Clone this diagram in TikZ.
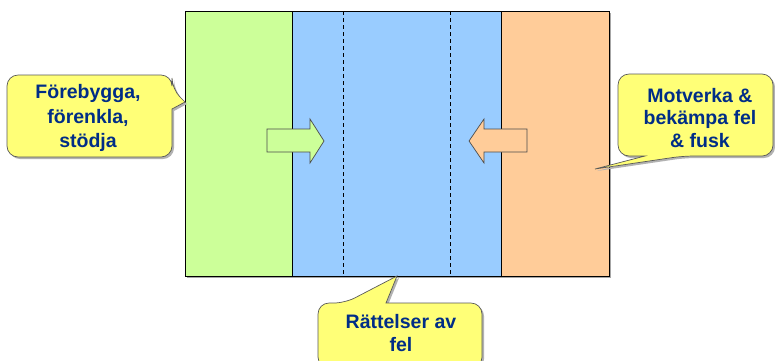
\documentclass[tikz,border=0pt]{standalone}
\usepackage{fontspec}
\setmainfont{Liberation Sans}
\definecolor{grn}{RGB}{204,255,153}
\definecolor{blu}{RGB}{153,204,255}
\definecolor{org}{RGB}{255,204,153}
\definecolor{yel}{RGB}{255,255,119}
\definecolor{navy}{RGB}{0,45,135}
\begin{document}
\begin{tikzpicture}[x=1pt,y=-1pt,
  callout/.style={draw=black!65, fill=yel, line width=0.7pt},
  cshadow/.style={fill=black!30, draw=none},
  ctext/.style={text=navy, align=center, inner sep=0pt},
  panel/.style={draw=black, line width=0.8pt},
  bigarrow/.style={draw=black!70, line width=0.7pt, line join=miter}]
\useasboundingbox (0,0) rectangle (775,360);

% panels
\fill[black!35] (187,13) rectangle (611,278);
\fill[grn] (185,11) rectangle (292,276);
\fill[blu] (292,11) rectangle (501,276);
\fill[org] (501,11) rectangle (609,276);
\draw[panel] (185,11) rectangle (609,276);
\draw[panel] (292,11) -- (292,276);
\draw[panel] (501,11) -- (501,276);
\draw[black, line width=0.7pt, dash pattern=on 4pt off 3pt] (343,11) -- (343,276);
\draw[black, line width=0.7pt, dash pattern=on 4pt off 3pt] (450,11) -- (450,276);

% block arrows
\draw[bigarrow, fill=grn] (267,129) -- (310,129) -- (310,119) -- (324,141) -- (310,163) -- (310,152) -- (267,152) -- cycle;
\draw[bigarrow, fill=org] (527,129) -- (484,129) -- (484,119) -- (469,141) -- (484,163) -- (484,152) -- (527,152) -- cycle;

% callout shadows
\begin{scope}[shift={(2,2)}]
\path[cshadow] (90,75) [rounded corners=11] -- (172,75) -- (172,89) [sharp corners] -- (185,102) -- (172,109) [rounded corners=11] -- (172,157) -- (7,157) -- (7,75) -- cycle;
\path[cshadow] (700,74) [rounded corners=11] -- (773,74) -- (773,156) -- (683,156) [sharp corners] -- (595,169) -- (645,156) [rounded corners=11] -- (618,156) -- (618,74) -- cycle;
\path[cshadow] (400,303) [rounded corners=11] -- (482,303) -- (482,368) -- (318,368) -- (318,303) -- (345,303) [sharp corners] -- (397,276) -- (386,303) [rounded corners=11] -- cycle;
\end{scope}

% callouts
\draw[callout] (90,75) [rounded corners=11] -- (172,75) -- (172,89) [sharp corners] -- (185,102) -- (172,109) [rounded corners=11] -- (172,157) -- (7,157) -- (7,75) -- cycle;
\draw[callout] (700,74) [rounded corners=11] -- (773,74) -- (773,156) -- (683,156) [sharp corners] -- (595,169) -- (645,156) [rounded corners=11] -- (618,156) -- (618,74) -- cycle;
\draw[callout] (400,303) [rounded corners=11] -- (482,303) -- (482,368) -- (318,368) -- (318,303) -- (345,303) [sharp corners] -- (397,276) -- (386,303) [rounded corners=11] -- cycle;

% texts
\node[ctext, font=\bfseries\fontsize{19.5}{24.5}\selectfont] (tl) at (88,118) {Förebygga,\\förenkla,\\stödja};
\node[ctext, font=\bfseries\fontsize{19.5}{22.5}\selectfont] (tr) at (700,118) {Motverka \&\\bekämpa fel\\\& fusk};
\node[ctext, font=\bfseries\fontsize{19.5}{23.5}\selectfont] (tb) at (401,333) {Rättelser av\\fel};
\end{tikzpicture}
\end{document}
